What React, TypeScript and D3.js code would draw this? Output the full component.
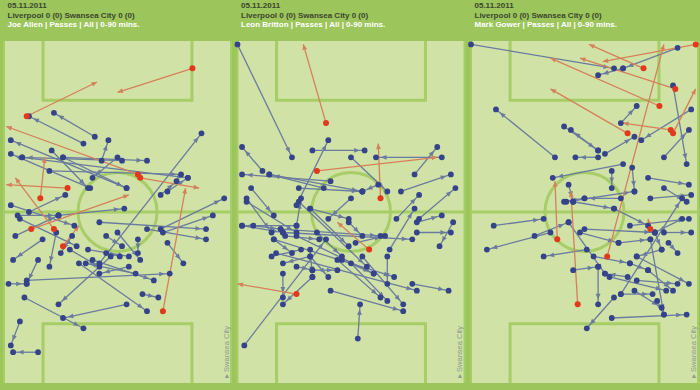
import React from "react";
import * as d3 from "d3";

// ---------- text ----------
const matchDate = "05.11.2011";
const matchTitle = "Liverpool 0 (0) Swansea City 0 (0)";
const players = ["Joe Allen", "Leon Britton", "Mark Gower"];
const subtitleSuffix = " | Passes | All | 0-90 mins.";
const opponentLabel = "▸ Swansea City";

// ---------- passes: [startX%, startY%, endX%, endY%] (x across pitch width, y down pitch length) ----------
type Pass = [number, number, number, number];

const allenPasses: Pass[] = [
  [40, 28, 22, 21], [35, 30, 11, 22], [54, 43, 3, 29], [38, 43, 3, 33], [52, 35, 8, 34],
  [21, 32, 37, 43], [26, 34, 63, 35], [20, 38, 78, 39], [8, 34, 81, 40], [43, 35, 46, 29],
  [42, 65, 87, 27], [69, 55, 97, 46], [11, 50, 27, 45], [3, 48, 31, 54], [42, 53, 89, 55],
  [63, 55, 89, 58], [70, 56, 92, 51], [47, 63, 24, 77], [54, 77, 26, 81], [9, 75, 35, 84],
  [10, 70, 73, 68], [15, 64, 10, 71], [2, 71, 10, 71], [72, 59, 79, 65], [61, 74, 68, 75],
  [33, 65, 63, 79], [39, 64, 66, 70], [55, 66, 42, 68], [7, 82, 3, 89], [15, 91, 4, 91],
  [17, 58, 4, 64], [30, 57, 25, 62], [23, 56, 20, 66], [59, 58, 59, 62], [50, 56, 60, 64],
  [45, 57, 52, 60], [29, 61, 42, 66], [5, 57, 24, 51], [37, 61, 55, 63], [7, 52, 32, 60],
  [45, 62, 51, 63], [58, 68, 36, 65], [26, 34, 54, 43], [50, 34, 39, 40], [69, 45, 76, 41],
  [72, 44, 81, 40], [24, 51, 53, 49], [6, 51, 24, 51],
];
const allenMissed: Pass[] = [
  [83, 8, 50, 15], [10, 22, 41, 12], [59, 39, 1, 25], [60, 40, 86, 43], [28, 43, 1, 42],
  [16, 46, 18, 34], [22, 55, 5, 40], [12, 55, 55, 45], [26, 60, 33, 54], [70, 79, 80, 43],
];

const brittonPasses: Pass[] = [
  [0, 1, 24, 34], [26, 48, 40, 29], [33, 32, 56, 32], [11, 38, 2, 31], [41, 41, 2, 39],
  [38, 43, 14, 39], [50, 34, 66, 44], [90, 34, 61, 34], [78, 39, 88, 31], [72, 44, 94, 39],
  [70, 52, 80, 45], [80, 52, 96, 43], [27, 43, 55, 44], [62, 42, 55, 44], [50, 46, 40, 52],
  [6, 43, 16, 51], [4, 46, 15, 56], [26, 54, 28, 46], [32, 49, 49, 52], [3, 89, 39, 58],
  [53, 87, 54, 77], [41, 73, 73, 79], [77, 71, 93, 73], [26, 54, 2, 54], [19, 55, 63, 57],
  [20, 56, 77, 58], [79, 56, 94, 56], [79, 53, 90, 51], [95, 53, 89, 60], [17, 62, 79, 73],
  [20, 68, 20, 75], [32, 61, 33, 69], [44, 64, 63, 75], [50, 65, 66, 76], [55, 63, 73, 77],
  [66, 63, 66, 71], [67, 61, 78, 49], [16, 58, 69, 69], [26, 57, 60, 68], [32, 49, 49, 60],
  [27, 47, 57, 66], [4, 47, 26, 56], [33, 67, 44, 67], [32, 63, 40, 69], [14, 39, 55, 44],
  [2, 54, 20, 56], [15, 63, 28, 61], [33, 69, 20, 77], [7, 54, 19, 55], [16, 58, 24, 62],
  [21, 57, 36, 58], [35, 56, 46, 63], [49, 53, 55, 57], [52, 59, 65, 57], [46, 64, 60, 68],
  [32, 63, 20, 65], [26, 66, 33, 67],
];
const brittonMissed: Pass[] = [
  [39, 24, 29, 1], [35, 38, 88, 34], [63, 46, 62, 30], [26, 74, 0, 71], [58, 61, 44, 53],
];

const gowerPasses: Pass[] = [
  [37, 34, 11, 20], [0, 1, 63, 8], [67, 8, 56, 10], [66, 24, 73, 19], [41, 25, 56, 32],
  [56, 32, 44, 26], [56, 34, 46, 34], [97, 20, 75, 29], [59, 33, 72, 28], [89, 13, 95, 36],
  [85, 34, 96, 26], [67, 36, 36, 40], [71, 37, 72, 44], [78, 40, 96, 42], [66, 46, 50, 46],
  [42, 47, 72, 44], [62, 38, 62, 43], [79, 46, 97, 45], [85, 43, 95, 47], [10, 54, 32, 52],
  [35, 56, 7, 61], [51, 61, 32, 63], [28, 57, 43, 53], [56, 66, 56, 77], [63, 75, 51, 84],
  [62, 81, 95, 80], [73, 63, 96, 71], [78, 67, 89, 73], [61, 69, 86, 73], [48, 56, 65, 59],
  [50, 55, 81, 56], [70, 54, 96, 52], [85, 56, 97, 56], [87, 59, 91, 62], [79, 58, 85, 80],
  [66, 74, 80, 74], [72, 73, 84, 78], [43, 53, 59, 68], [45, 67, 56, 66], [54, 63, 70, 65],
  [66, 74, 93, 46], [45, 47, 63, 49], [63, 49, 78, 54], [43, 42, 45, 47], [93, 52, 81, 56],
  [84, 61, 73, 63], [73, 70, 91, 71], [91, 2, 67, 8], [65, 59, 79, 58], [81, 56, 84, 61],
  [82, 76, 85, 80], [69, 69, 59, 68], [70, 65, 78, 67], [41, 47, 50, 46],
];
const gowerMissed: Pass[] = [
  [76, 8, 52, 1], [90, 14, 48, 5], [83, 19, 35, 5], [69, 27, 35, 14], [88, 26, 67, 24],
  [89, 27, 99, 14], [99, 1, 58, 6], [60, 63, 85, 1], [47, 77, 44, 44], [38, 58, 37, 41],
  [79, 55, 78, 52],
];

const passSets = [
  { complete: allenPasses, missed: allenMissed },
  { complete: brittonPasses, missed: brittonMissed },
  { complete: gowerPasses, missed: gowerMissed },
];

// ---------- pitch markings (percent units) ----------
const boxSides = [17.2, 82.8];
const boxDepth = 17.3;
const halfway = 50;
const circleRadius = 17.4; // in percent of pitch width

// ---------- styling ----------
const BG = "#9cc55b";
const FIELD = "#d0e2a5";
const LINE = "#a6cd66";
const BLUE_LINE = "#6a7b9f";
const BLUE_DOT = "#35438b";
const RED_LINE = "#d6805a";
const RED_DOT = "#e2381c";

const W = 700;
const H = 390;
const PITCH_TOP = 41;
const PITCH_BOTTOM = 383;
const PITCH_W = 227;
const PANEL_LEFTS = [4, 237.5, 471];

function arrowHead(x1: number, y1: number, x2: number, y2: number, back: number) {
  const dx = x2 - x1, dy = y2 - y1;
  const len = Math.hypot(dx, dy) || 1;
  const ux = dx / len, uy = dy / len;
  const b = Math.min(back, len * 0.3);
  const tx = x2 - ux * b, ty = y2 - uy * b;
  const al = 5.5, aw = 2.4;
  const bx = tx - ux * al, by = ty - uy * al;
  return `${tx},${ty} ${bx - uy * aw},${by + ux * aw} ${bx + uy * aw},${by - ux * aw}`;
}

function Panel({ idx }: { idx: number }) {
  const left = PANEL_LEFTS[idx];
  const xs = d3.scaleLinear().domain([0, 100]).range([left, left + PITCH_W]);
  const ys = d3.scaleLinear().domain([0, 100]).range([PITCH_TOP, PITCH_BOTTOM]);
  const { complete, missed } = passSets[idx];
  const r = xs(circleRadius) - xs(0);
  const font = "'Liberation Sans', Arial, sans-serif";

  return (
    <g>
      <rect x={xs(0)} y={ys(0)} width={xs(100) - xs(0)} height={ys(100) - ys(0)} fill={FIELD} />
      <line x1={xs(0)} x2={xs(100)} y1={ys(halfway)} y2={ys(halfway)} stroke={LINE} strokeWidth={3} />
      <circle cx={xs(50)} cy={ys(halfway)} r={r} fill="none" stroke={LINE} strokeWidth={3} />
      <path
        d={`M${xs(boxSides[0])},${ys(0)} V${ys(boxDepth)} H${xs(boxSides[1])} V${ys(0)}`}
        fill="none" stroke={LINE} strokeWidth={3}
      />
      <path
        d={`M${xs(boxSides[0])},${ys(100)} V${ys(100 - boxDepth)} H${xs(boxSides[1])} V${ys(100)}`}
        fill="none" stroke={LINE} strokeWidth={3}
      />
      <line x1={xs(0)} x2={xs(0)} y1={ys(0)} y2={ys(100)} stroke={LINE} strokeWidth={2} />
      <line x1={xs(100)} x2={xs(100)} y1={ys(0)} y2={ys(100)} stroke={LINE} strokeWidth={2} />

      {complete.map((p, i) => {
        const x1 = xs(p[0]), y1 = ys(p[1]), x2 = xs(p[2]), y2 = ys(p[3]);
        return (
          <g key={"c" + i}>
            <line x1={x1} y1={y1} x2={x2} y2={y2} stroke={BLUE_LINE} strokeWidth={1.3} />
            <polygon points={arrowHead(x1, y1, x2, y2, 5)} fill={BLUE_LINE} />
          </g>
        );
      })}
      {missed.map((p, i) => {
        const x1 = xs(p[0]), y1 = ys(p[1]), x2 = xs(p[2]), y2 = ys(p[3]);
        return (
          <g key={"m" + i}>
            <line x1={x1} y1={y1} x2={x2} y2={y2} stroke={RED_LINE} strokeWidth={1.3} />
            <polygon points={arrowHead(x1, y1, x2, y2, 0)} fill={RED_LINE} />
          </g>
        );
      })}
      {complete.map((p, i) => (
        <g key={"cd" + i}>
          <circle cx={xs(p[0])} cy={ys(p[1])} r={2.9} fill={BLUE_DOT} />
          <circle cx={xs(p[2])} cy={ys(p[3])} r={2.9} fill={BLUE_DOT} />
        </g>
      ))}
      {missed.map((p, i) => (
        <circle key={"md" + i} cx={xs(p[0])} cy={ys(p[1])} r={3} fill={RED_DOT} />
      ))}

      <text x={left + 3.5} y={8} fontFamily={font} fontWeight="bold" fontSize={8} fill="#3b4630">
        {matchDate}
      </text>
      <text x={left + 3.5} y={17.5} fontFamily={font} fontWeight="bold" fontSize={8} fill="#3b4630">
        {matchTitle}
      </text>
      <text x={left + 3.5} y={26.8} fontFamily={font} fontWeight="bold" fontSize={8} fill="#ffffff">
        {players[idx] + subtitleSuffix}
      </text>
      <text
        transform={`translate(${left + 224.5},${378}) rotate(-90)`}
        fontFamily={font}
        fontSize={7.5}
        fill="#8c9c90"
      >
        {opponentLabel}
      </text>
    </g>
  );
}

export default function App() {
  React.useEffect(() => {
    document.body.style.margin = "0";
  }, []);
  return (
    <svg
      width={W}
      height={H}
      viewBox={`0 0 ${W} ${H}`}
      style={{ position: "absolute", left: 0, top: 0, display: "block" }}
    >
      <rect x={0} y={0} width={W} height={H} fill={BG} />
      {[0, 1, 2].map((i) => (
        <Panel key={i} idx={i} />
      ))}
    </svg>
  );
}
